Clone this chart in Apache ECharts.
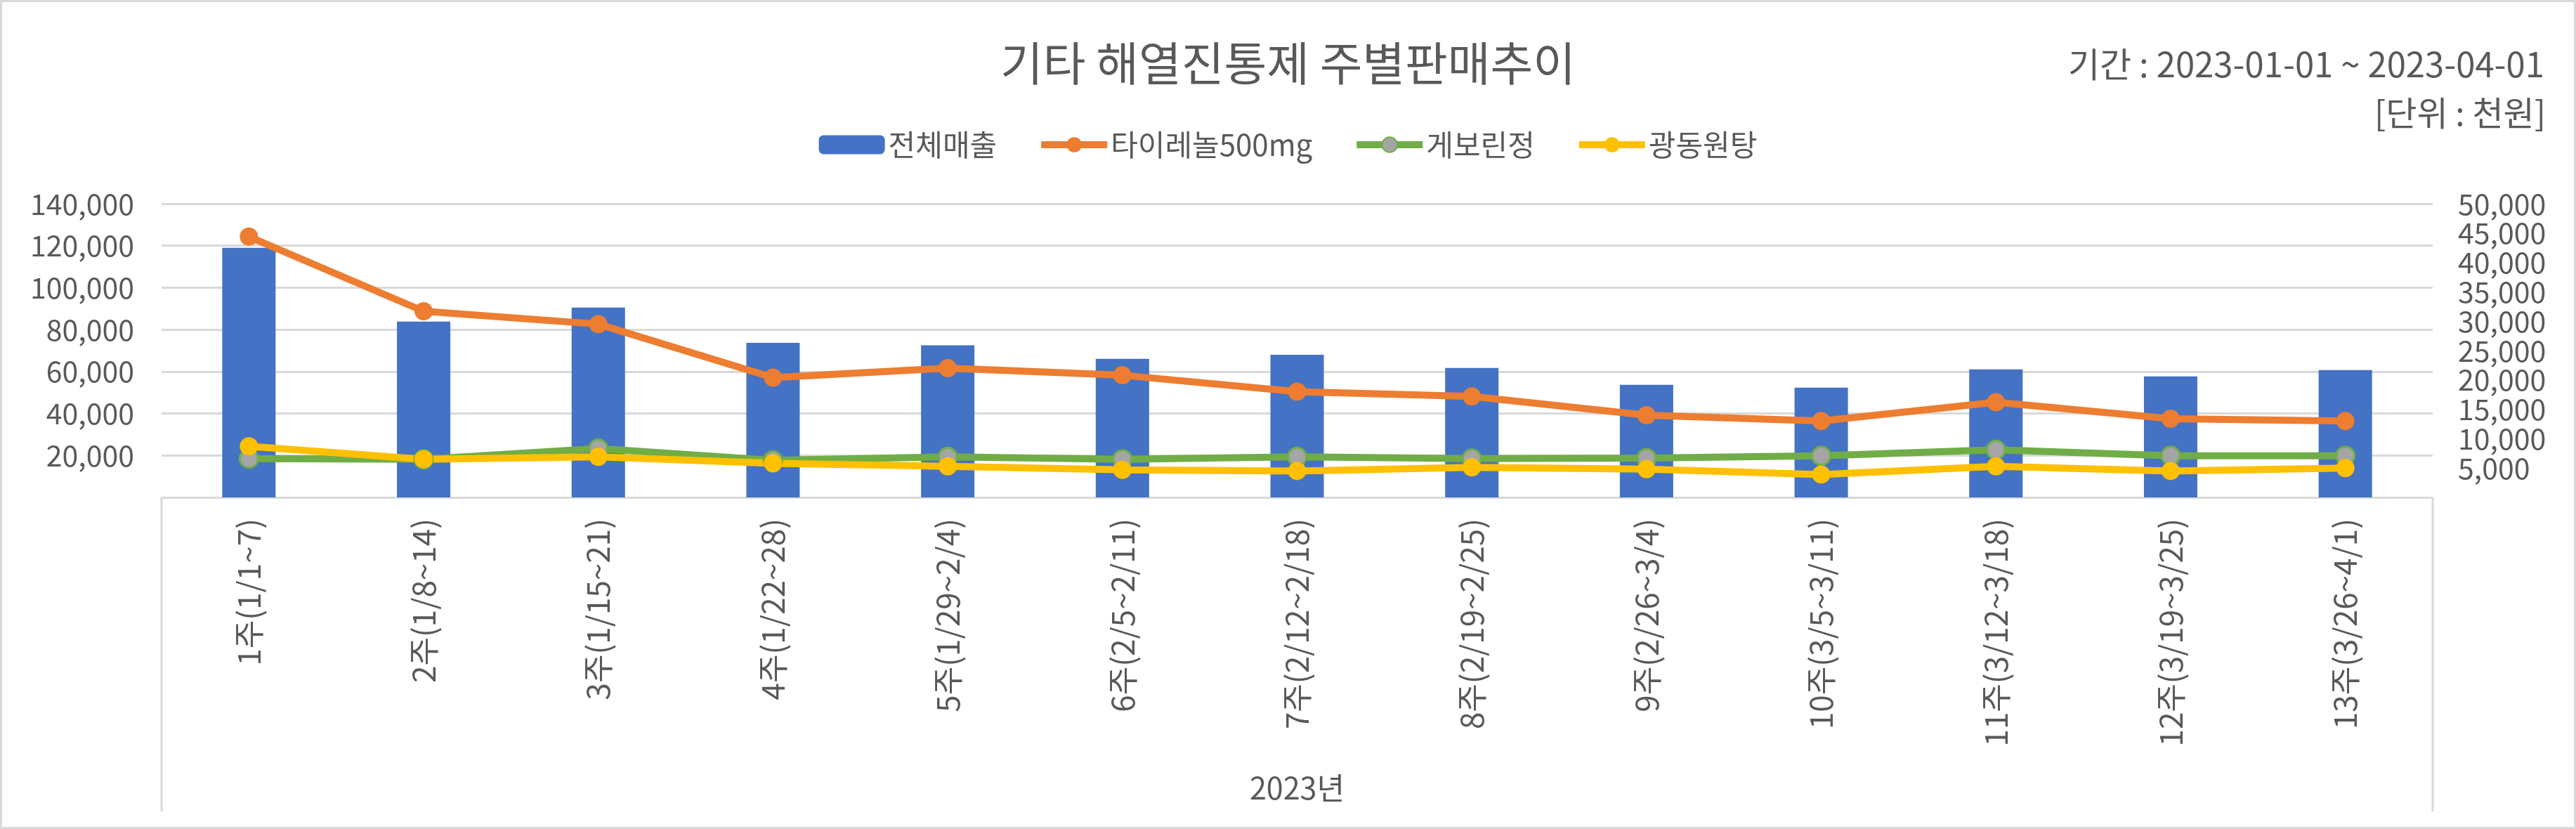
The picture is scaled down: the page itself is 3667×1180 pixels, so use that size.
<!DOCTYPE html>
<html>
<head>
<meta charset="utf-8">
<script src="https://cdn.jsdelivr.net/npm/echarts@6/dist/echarts.min.js"></script>
<style>
  html, body { margin: 0; padding: 0; background: #ffffff; }
  #wrap { position: relative; width: 3667px; height: 1180px; }
  #chart { position: absolute; left: 0; top: 0; width: 3667px; height: 1180px; }
  #frame { position: absolute; left: 0; top: 0; width: 3667px; height: 1180px; box-sizing: border-box; border: 3px solid #d9d9d9; pointer-events: none; }
</style>
</head>
<body>
<div id="wrap"><div id="chart"></div><div id="frame"></div></div>
<script>
const FONT = '"Noto Sans CJK KR", "Noto Sans", sans-serif';
const TEXT = '#595959';

const chartTitle = '기타 해열진통제 주별판매추이';
const periodText = '기간 : 2023-01-01 ~ 2023-04-01';
const unitText = '[단위 : 천원]';
const groupLabel = ['2023년'];

const categories = ['1주(1/1~7)', '2주(1/8~14)', '3주(1/15~21)', '4주(1/22~28)', '5주(1/29~2/4)', '6주(2/5~2/11)', '7주(2/12~2/18)', '8주(2/19~2/25)', '9주(2/26~3/4)', '10주(3/5~3/11)', '11주(3/12~3/18)', '12주(3/19~3/25)', '13주(3/26~4/1)'];

const seriesNames = ['전체매출', '타이레놀500mg', '게보린정', '광동원탕'];
const totalSales = [119000, 83800, 90500, 73700, 72500, 66100, 68000, 61700, 53700, 52300, 61000, 57700, 60700];
const tylenol = [44400, 31700, 29500, 20400, 22000, 20800, 18000, 17200, 14000, 13000, 16200, 13400, 13000];
const geborin = [6600, 6500, 8300, 6300, 6900, 6500, 6900, 6600, 6700, 7100, 8100, 7100, 7100];
const gwangdong = [8700, 6500, 6900, 5800, 5300, 4700, 4500, 5100, 4800, 3900, 5300, 4500, 5000];

const leftAxis = { min: 0, max: 140000, interval: 20000 };
const rightAxis = { min: 0, max: 50000, interval: 5000 };

function fmt(v) { return v === 0 ? '' : v.toLocaleString('en-US'); }

const chart = echarts.init(document.getElementById('chart'), null, { renderer: 'canvas' });

const GROUP_DEPTH = 447;

const lineCommon = {
  type: 'line',
  yAxisIndex: 1,
  symbol: 'circle',
  symbolSize: 26,
  emphasis: { disabled: true },
  animation: false
};

chart.setOption({
  animation: false,
  textStyle: { fontFamily: FONT, color: TEXT },
  title: [
    { text: chartTitle, left: 'center', top: 52,
      textStyle: { fontFamily: FONT, fontSize: 66, fontWeight: 'normal', color: TEXT, lineHeight: 66 } },
    { text: periodText, right: 40, top: 62,
      textStyle: { fontFamily: FONT, fontSize: 49, fontWeight: 'normal', color: TEXT, lineHeight: 49 } },
    { text: unitText, right: 38, top: 132,
      textStyle: { fontFamily: FONT, fontSize: 48, fontWeight: 'normal', color: TEXT, lineHeight: 48 } }
  ],
  legend: {
    top: 180,
    left: 'center',
    itemWidth: 94,
    itemHeight: 27,
    itemGap: 58,
    lineStyle: { width: 10 },
    textStyle: { fontFamily: FONT, fontSize: 42, color: TEXT },
    data: seriesNames
  },
  grid: { left: 230, right: 204, top: 290, bottom: 472, containLabel: false },
  xAxis: [
    {
      type: 'category',
      data: categories,
      axisLine: { show: true, lineStyle: { color: '#d9d9d9', width: 3 } },
      axisTick: { show: false },
      axisLabel: { rotate: 90, margin: 30, fontFamily: FONT, fontSize: 44, color: TEXT, interval: 0 }
    },
    {
      type: 'category',
      data: groupLabel,
      position: 'bottom',
      offset: GROUP_DEPTH,
      axisLine: { show: false },
      axisTick: { show: false },
      axisLabel: { inside: true, margin: 12, fontFamily: FONT, fontSize: 43, color: TEXT }
    }
  ],
  yAxis: [
    {
      type: 'value',
      min: leftAxis.min, max: leftAxis.max, interval: leftAxis.interval,
      axisLine: { show: false },
      axisTick: { show: false },
      splitLine: { show: true, lineStyle: { color: '#d9d9d9', width: 3 } },
      axisLabel: { margin: 39, fontFamily: FONT, fontSize: 41, color: TEXT, formatter: fmt,
        showMaxLabel: true, showMinLabel: true, hideOverlap: false }
    },
    {
      type: 'value',
      min: rightAxis.min, max: rightAxis.max, interval: rightAxis.interval,
      axisLine: { show: false },
      axisTick: { show: false },
      splitLine: { show: false },
      axisLabel: { margin: 36, fontFamily: FONT, fontSize: 41, lineHeight: 38, color: TEXT, formatter: fmt,
        showMaxLabel: true, showMinLabel: true, hideOverlap: false }
    }
  ],
  series: [
    {
      name: seriesNames[0], type: 'bar', data: totalSales, barWidth: 76,
      itemStyle: { color: '#4472C4' }, emphasis: { disabled: true }
    },
    Object.assign({}, lineCommon, {
      name: seriesNames[1], data: tylenol,
      itemStyle: { color: '#ED7D31' }, lineStyle: { width: 10, color: '#ED7D31' }
    }),
    Object.assign({}, lineCommon, {
      name: seriesNames[2], data: geborin,
      itemStyle: { color: '#A5A5A5', borderColor: '#70AD47', borderWidth: 3 },
      lineStyle: { width: 10, color: '#70AD47' }
    }),
    Object.assign({}, lineCommon, {
      name: seriesNames[3], data: gwangdong,
      itemStyle: { color: '#FFC000' }, lineStyle: { width: 10, color: '#FFC000' }
    })
  ]
});

// Group box side lines, derived from the category axis scale
const c0 = chart.convertToPixel({ xAxisIndex: 0 }, 0);
const c1 = chart.convertToPixel({ xAxisIndex: 0 }, 1);
const cN = chart.convertToPixel({ xAxisIndex: 0 }, categories.length - 1);
const band = c1 - c0;
const yBase = chart.convertToPixel({ yAxisIndex: 0 }, 0);
const xL = c0 - band / 2, xR = cN + band / 2;
chart.setOption({
  graphic: [
    { type: 'line', shape: { x1: xL, y1: yBase, x2: xL, y2: yBase + GROUP_DEPTH }, style: { stroke: '#d9d9d9', lineWidth: 3 }, silent: true },
    { type: 'line', shape: { x1: xR, y1: yBase, x2: xR, y2: yBase + GROUP_DEPTH }, style: { stroke: '#d9d9d9', lineWidth: 3 }, silent: true }
  ]
});
</script>
</body>
</html>
